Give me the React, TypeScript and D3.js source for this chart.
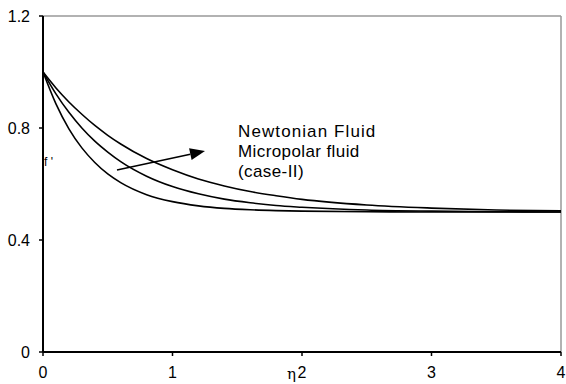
import React from "react";
import * as d3 from "d3";

const etaValues = [0, 0.1, 0.2, 0.3, 0.4, 0.5, 0.6, 0.8, 1.0, 1.2, 1.4, 1.6, 1.8, 2.0, 2.5, 3.0, 3.5, 4.0];
const newtonian = [1.0, 0.943, 0.893, 0.849, 0.809, 0.774, 0.743, 0.691, 0.651, 0.618, 0.593, 0.573, 0.558, 0.545, 0.525, 0.514, 0.507, 0.504];
const micropolarA = [1.0, 0.922, 0.856, 0.8, 0.753, 0.714, 0.68, 0.628, 0.591, 0.565, 0.546, 0.533, 0.523, 0.517, 0.507, 0.503, 0.501, 0.5];
const micropolarB = [1.0, 0.886, 0.797, 0.729, 0.677, 0.636, 0.605, 0.562, 0.537, 0.522, 0.513, 0.508, 0.505, 0.503, 0.501, 0.5, 0.5, 0.5];
const xTicks = [0, 1, 2, 3, 4];
const yTicks = [0, 0.4, 0.8, 1.2];
const legendLines = ["Newtonian Fluid", "Micropolar fluid", "(case-II)"];

export default function App() {
  const x = d3.scaleLinear().domain([0, 4]).range([43, 561]);
  const y = d3.scaleLinear().domain([0, 1.2]).range([352, 16]);
  const line = d3
    .line<number>()
    .x((_, i) => x(etaValues[i]))
    .y((d) => y(d))
    .curve(d3.curveMonotoneX);
  const series = [newtonian, micropolarA, micropolarB];
  const font = "Liberation Sans, Arial, sans-serif";

  // arrow geometry
  const ax1 = 117, ay1 = 170, ax2 = 205, ay2 = 151;
  const ang = Math.atan2(ay2 - ay1, ax2 - ax1);
  const hl = 15, hw = 6;
  const bx = ax2 - hl * Math.cos(ang), by = ay2 - hl * Math.sin(ang);
  const p1 = [bx + hw * Math.sin(ang), by - hw * Math.cos(ang)];
  const p2 = [bx - hw * Math.sin(ang), by + hw * Math.cos(ang)];

  return (
    <svg width={566} height={384} style={{ position: "absolute", left: 0, top: 0, background: "#fff" }}>
      {/* frame top and right */}
      <line x1={x(0)} x2={x(4)} y1={y(1.2)} y2={y(1.2)} stroke="#999" strokeWidth={1.5} />
      <line x1={x(4)} x2={x(4)} y1={y(1.2)} y2={y(0)} stroke="#999" strokeWidth={1.5} />
      {/* curves */}
      {series.map((s, i) => (
        <path key={i} d={line(s) || ""} fill="none" stroke="#000" strokeWidth={1.6} />
      ))}
      {/* axes */}
      <line x1={x(0)} x2={x(0)} y1={y(1.2)} y2={y(0)} stroke="#000" strokeWidth={2} />
      <line x1={x(0)} x2={x(4)} y1={y(0)} y2={y(0)} stroke="#000" strokeWidth={2} />
      {yTicks.map((t) => (
        <g key={"y" + t}>
          <line x1={x(0) - 4} x2={x(0)} y1={y(t)} y2={y(t)} stroke="#000" strokeWidth={1.5} />
          <text x={30} y={y(t) + 6} textAnchor="end" fontFamily={font} fontSize={16}>
            {t === 0 ? "0" : d3.format(".1f")(t)}
          </text>
        </g>
      ))}
      {xTicks.map((t) => (
        <g key={"x" + t}>
          <line x1={x(t)} x2={x(t)} y1={y(0)} y2={y(0) + 4} stroke="#000" strokeWidth={1.5} />
          <text x={x(t)} y={378} textAnchor="middle" fontFamily={font} fontSize={16}>
            {String(t)}
          </text>
        </g>
      ))}
      <text x={287} y={379} fontFamily="DejaVu Serif, serif" fontSize={15}>η</text>
      <text x={44} y={166} fontFamily={font} fontSize={12}>f '</text>
      {/* arrow */}
      <line x1={ax1} y1={ay1} x2={bx} y2={by} stroke="#000" strokeWidth={1.6} />
      <polygon points={`${ax2},${ay2} ${p1[0]},${p1[1]} ${p2[0]},${p2[1]}`} fill="#000" />
      {legendLines.map((t, i) => (
        <text key={t} x={238} y={137 + i * 20} fontFamily={font} fontSize={17} letterSpacing={i === 0 ? 1.1 : 0.4}>
          {t}
        </text>
      ))}
    </svg>
  );
}
